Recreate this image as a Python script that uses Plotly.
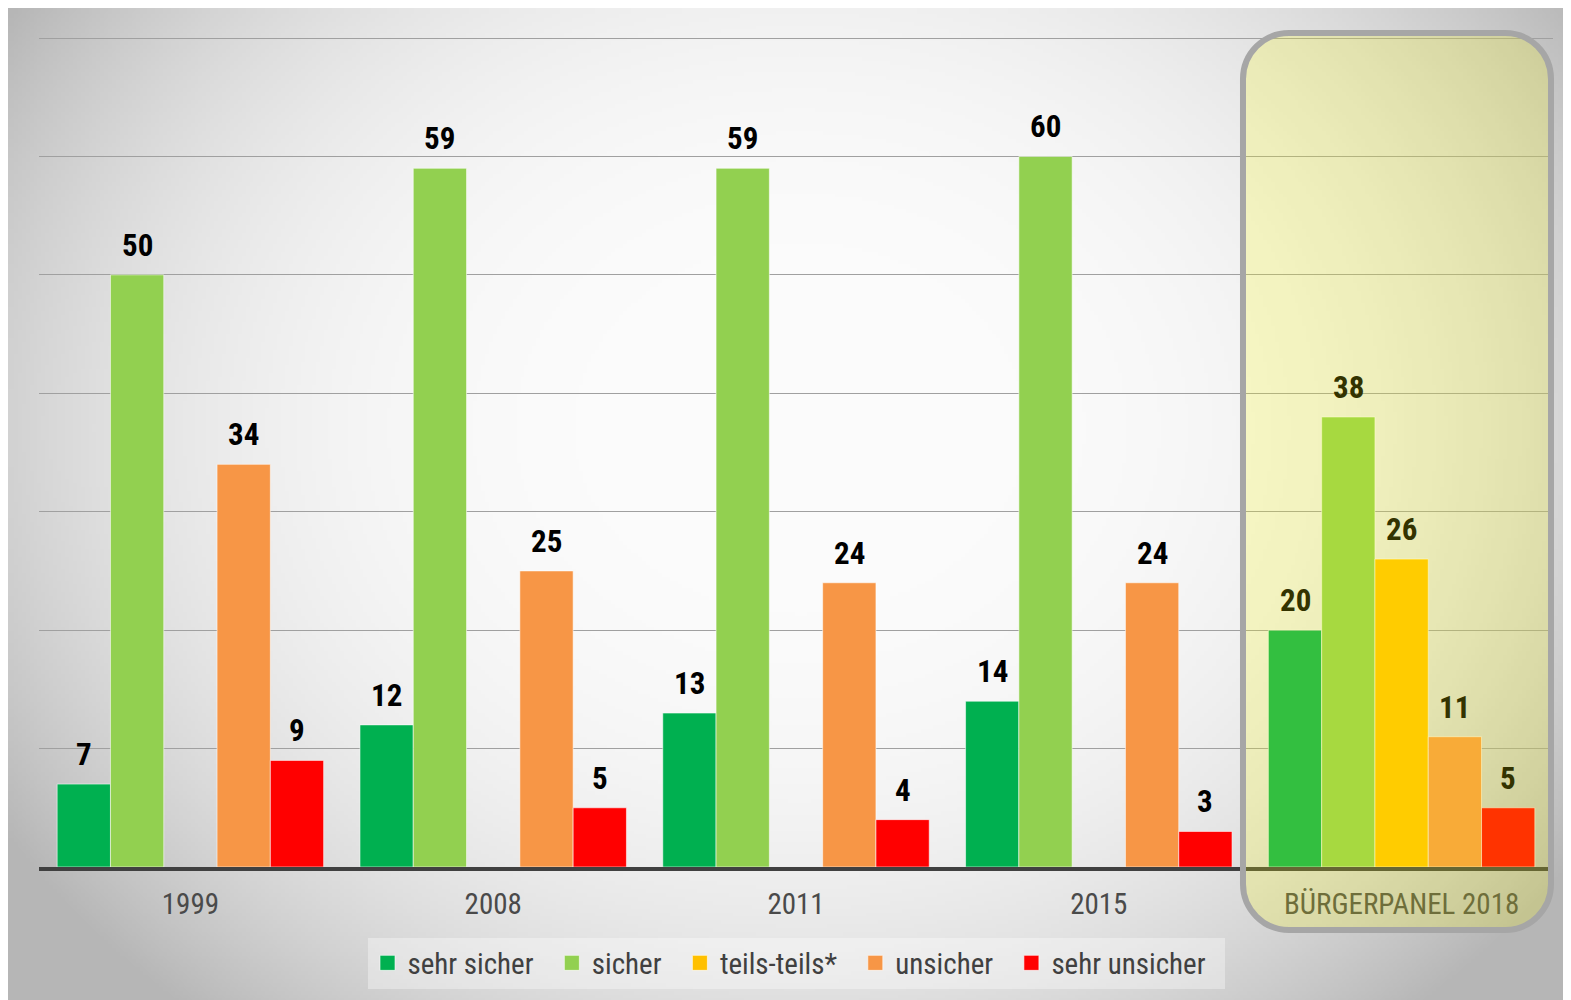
import zlib, struct, base64
import numpy as np
import plotly.graph_objects as go

# ---------------- data ----------------
categories = ["1999", "2008", "2011", "2015", "BÜRGERPANEL 2018"]
series_names = ["sehr sicher", "sicher", "teils-teils*", "unsicher", "sehr unsicher"]
sehr_sicher = [7, 12, 13, 14, 20]
sicher = [50, 59, 59, 60, 38]
teils_teils = [None, None, None, None, 26]
unsicher = [34, 25, 24, 24, 11]
sehr_unsicher = [9, 5, 4, 3, 5]
series_values = [sehr_sicher, sicher, teils_teils, unsicher, sehr_unsicher]
series_colors = ["#00B050", "#92D050", "#FFC000", "#F79646", "#FF0000"]

# ---------------- layout geometry ----------------
W, H = 1571, 1000
ML, MR, MT, MB = 31, 26, 28, 141
PW = W - ML - MR
PH = H - MT - MB
YMAX = 70.17
BARGAP = 0.12
FONT = "Roboto Condensed, Liberation Sans Narrow, DejaVu Sans Condensed, Roboto"


def px2paper(px, py):
    return (px - ML) / PW, (H - MB - py) / PH


def png_uri(arr):
    h, w, c = arr.shape
    raw = b"".join(b"\x00" + arr[y].tobytes() for y in range(h))

    def chunk(t, d):
        return struct.pack(">I", len(d)) + t + d + struct.pack(">I", zlib.crc32(t + d) & 0xFFFFFFFF)

    ctype = 2 if c == 3 else 6
    png = (b"\x89PNG\r\n\x1a\n"
           + chunk(b"IHDR", struct.pack(">IIBBBBB", w, h, 8, ctype, 0, 0, 0))
           + chunk(b"IDAT", zlib.compress(raw, 9))
           + chunk(b"IEND", b""))
    return "data:image/png;base64," + base64.b64encode(png).decode()


# radial grey background gradient (whole paper)
bx0, by0, bx1, by1 = 0, 0, W, H
gw, gh = 400, 256
xs = bx0 + (np.arange(gw) + 0.5) / gw * (bx1 - bx0)
ys = by0 + (np.arange(gh) + 0.5) / gh * (by1 - by0)
X, Y = np.meshgrid(xs, ys)
d = np.sqrt(((X - 792) / 850) ** 2 + ((Y - 420) / 700) ** 2)
v = 252 - 52 * np.minimum(d, 1.1) ** 3
img = np.clip(np.stack([v, v, v], axis=-1), 0, 255).astype(np.uint8)
bg_uri = png_uri(img)

fig = go.Figure()
for name, vals, col in zip(series_names, series_values, series_colors):
    fig.add_trace(go.Bar(
        name=name, x=categories, y=vals, showlegend=False,
        marker=dict(color=col, line=dict(color="rgba(255,255,255,0.55)", width=1)),
        hoverinfo="x+y+name",
    ))
# legend entries (square symbols) on a hidden helper axis pair
for name, col in zip(series_names, series_colors):
    fig.add_trace(go.Scatter(
        name=name + "\u00a0\u00a0", x=[-10], y=[-10], mode="markers",
        xaxis="x2", yaxis="y2",
        marker=dict(symbol="square", size=15, color=col,
                    line=dict(color="rgba(255,255,255,0.6)", width=1)),
        showlegend=True, hoverinfo="skip",
    ))

# value labels above each bar (placed through the category axis by position index)
slot_px = PW / len(categories) * (1 - BARGAP) / len(series_names)
for i, vals in enumerate(series_values):
    for ci, (cat, val) in enumerate(zip(categories, vals)):
        if val is None:
            continue
        in_box = cat == categories[-1]
        fig.add_annotation(
            x=ci, y=val, xref="x", yref="y", text=str(val), showarrow=False,
            xshift=(i - (len(series_names) - 1) / 2) * slot_px, yshift=9,
            yanchor="bottom", xanchor="center",
            font=dict(family=FONT, size=31, color="#333300" if in_box else "#000000",
                      weight="bold"),
        )

# rounded highlight box (semi-transparent yellow tint over 2018 group)
x0p, y0p, x1p, y1p, r = 1235, 25, 1543, 922, 46
k = 0.5523 * r


def P(px, py):
    a, b = px2paper(px, py)
    return f"{a:.5f},{b:.5f}"


path = (f"M {P(x0p + r, y0p)} L {P(x1p - r, y0p)} "
        f"C {P(x1p - r + k, y0p)} {P(x1p, y0p + r - k)} {P(x1p, y0p + r)} "
        f"L {P(x1p, y1p - r)} "
        f"C {P(x1p, y1p - r + k)} {P(x1p - r + k, y1p)} {P(x1p - r, y1p)} "
        f"L {P(x0p + r, y1p)} "
        f"C {P(x0p + r - k, y1p)} {P(x0p, y1p - r + k)} {P(x0p, y1p - r)} "
        f"L {P(x0p, y0p + r)} "
        f"C {P(x0p, y0p + r - k)} {P(x0p + r - k, y0p)} {P(x0p + r, y0p)} Z")

fig.add_shape(type="path", path=path, xref="paper", yref="paper", layer="above",
              fillcolor="rgba(255,255,0,0.2)", line=dict(color="#A6A6A6", width=6))

ix, iy = px2paper(bx0, by0)
fig.add_layout_image(source=bg_uri, xref="paper", yref="paper", x=ix, y=iy,
                     sizex=(bx1 - bx0) / PW, sizey=(by1 - by0) / PH,
                     xanchor="left", yanchor="top", sizing="stretch", layer="below")

lx, ly = px2paper(788, 955)
fig.update_layout(
    width=W, height=H,
    margin=dict(l=ML, r=MR, t=MT, b=MB, pad=0),
    paper_bgcolor="white", plot_bgcolor="rgba(0,0,0,0)",
    barmode="group", bargap=BARGAP, bargroupgap=0,
    showlegend=True,
    legend=dict(orientation="h", x=lx, y=ly, xanchor="center", yanchor="middle",
                bgcolor="rgba(255,255,255,0.35)", borderwidth=0,
                font=dict(family=FONT, size=29, color="#404040"),
                traceorder="normal"),
    xaxis=dict(type="category", categoryorder="array", categoryarray=categories,
               range=[-0.5, len(categories) - 0.5],
               showgrid=False, showline=True, linecolor="#404040", linewidth=4,
               ticks="", ticklabelstandoff=8,
               tickfont=dict(family=FONT, size=29, color="#4A4A4A")),
    yaxis=dict(range=[0, YMAX], dtick=10, showgrid=True, gridcolor="#A0A0A0", gridwidth=1,
               showticklabels=False, zeroline=False, showline=False, ticks=""),
    xaxis2=dict(overlaying="x", range=[0, 1], visible=False, showgrid=False),
    yaxis2=dict(overlaying="y", range=[0, 1], visible=False, showgrid=False),
)

fig.write_html("out.html")
